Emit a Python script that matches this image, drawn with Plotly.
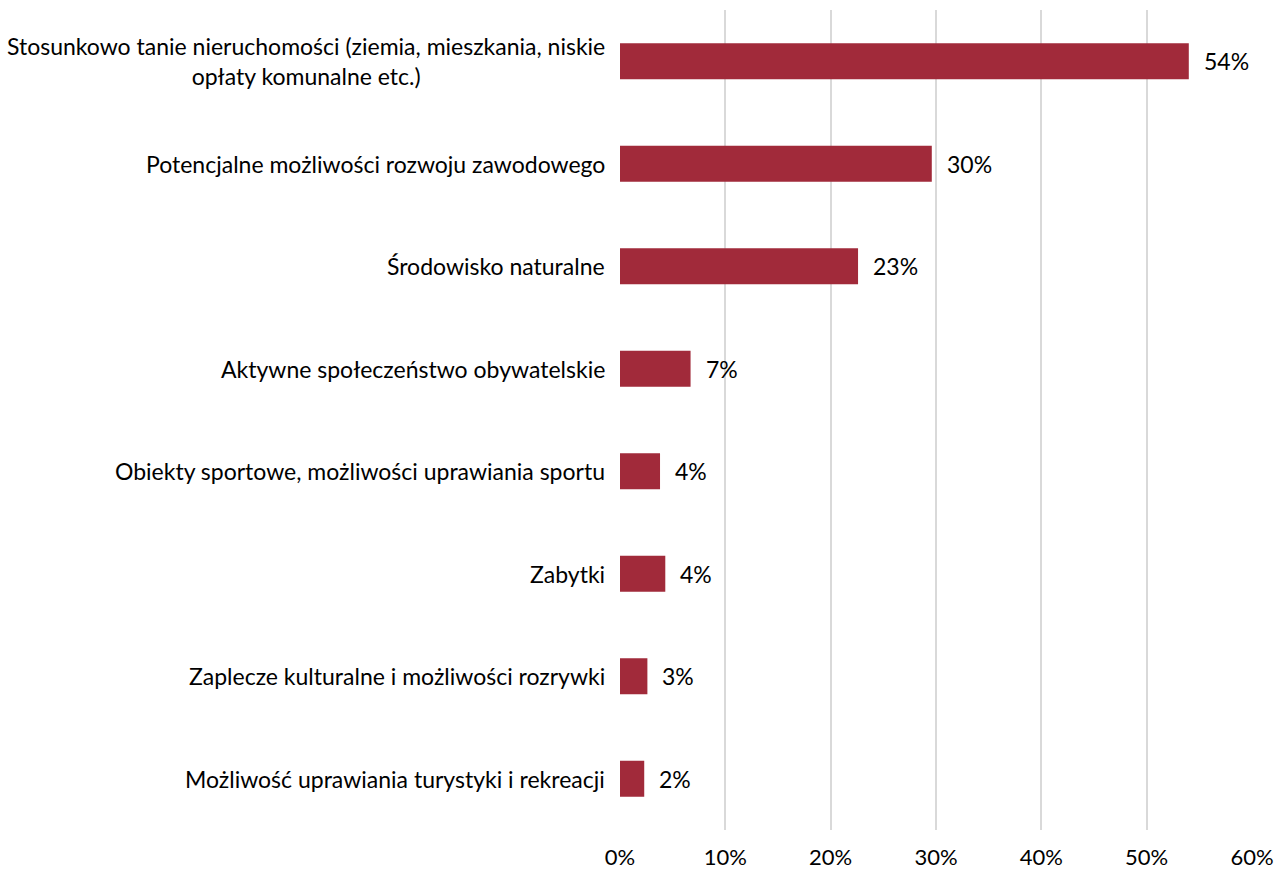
import plotly.graph_objects as go

categories = [
    "Stosunkowo tanie nieruchomości (ziemia, mieszkania, niskie<br>opłaty komunalne etc.)",
    "Potencjalne możliwości rozwoju zawodowego",
    "Środowisko naturalne",
    "Aktywne społeczeństwo obywatelskie",
    "Obiekty sportowe, możliwości uprawiania sportu",
    "Zabytki",
    "Zaplecze kulturalne i możliwości rozrywki",
    "Możliwość uprawiania turystyki i rekreacji",
]
values = [0.540, 0.296, 0.226, 0.067, 0.038, 0.043, 0.026, 0.023]
value_labels = ["54%", "30%", "23%", "7%", "4%", "4%", "3%", "2%"]
tick_values = [0, 0.1, 0.2, 0.3, 0.4, 0.5, 0.6]
tick_labels = ["0%", "10%", "20%", "30%", "40%", "50%", "60%"]

FONT = "Lato, 'Open Sans', sans-serif"
FONT_SIZE = 23
BAR_COLOR = "#A12A3A"

fig = go.Figure()
fig.add_trace(
    go.Bar(
        x=values,
        y=categories,
        orientation="h",
        marker=dict(color=BAR_COLOR, line=dict(width=0)),
        width=0.35,
        hoverinfo="x+y",
    )
)

# category labels as annotations so that wrapped lines are centred
for cat in categories:
    fig.add_annotation(
        x=0, y=cat, xref="x", yref="y",
        text=cat, showarrow=False,
        xanchor="right", align="center",
        xshift=-13,
        font=dict(family=FONT, size=FONT_SIZE, color="#000000"),
    )

# value labels to the right of each bar
for cat, val, lab in zip(categories, values, value_labels):
    fig.add_annotation(
        x=val, y=cat, xref="x", yref="y",
        text=lab, showarrow=False,
        xanchor="left", xshift=13,
        font=dict(family=FONT, size=FONT_SIZE, color="#000000"),
    )

fig.update_layout(
    width=1282,
    height=871,
    margin=dict(l=620, r=30, t=10, b=41, autoexpand=False),
    paper_bgcolor="#FFFFFF",
    plot_bgcolor="#FFFFFF",
    showlegend=False,
    font=dict(family=FONT, size=FONT_SIZE, color="#000000"),
)
fig.update_xaxes(
    range=[0, 0.6],
    tickvals=tick_values,
    ticktext=tick_labels,
    showgrid=True,
    gridcolor="#D9D9D9",
    gridwidth=2,
    zeroline=False,
    showline=False,
    ticks="",
    automargin=False,
    ticklabelstandoff=12,
    tickfont=dict(family=FONT, size=22, color="#000000"),
)
fig.update_yaxes(
    autorange="reversed",
    showticklabels=False,
    showgrid=False,
    zeroline=False,
    ticks="",
    automargin=False,
)

fig.write_html(
    "out.html",
    config={"displayModeBar": False},
    post_script="document.body.style.margin='0';document.body.style.overflow='hidden';",
)
